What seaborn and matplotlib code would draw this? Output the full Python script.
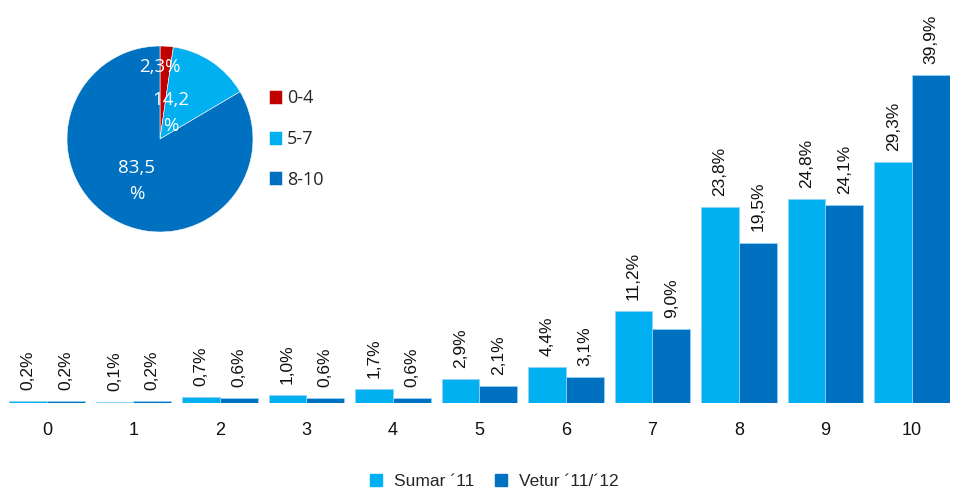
import numpy as np
import pandas as pd
import matplotlib
matplotlib.use("Agg")
import matplotlib.pyplot as plt
import seaborn as sns
from matplotlib.lines import Line2D

# grades 0-10, share of respondents
grades = [str(i) for i in range(11)]
sumar = [0.2, 0.1, 0.7, 1.0, 1.7, 2.9, 4.4, 11.2, 23.8, 24.8, 29.3]
vetur = [0.2, 0.2, 0.6, 0.6, 0.6, 2.1, 3.1, 9.0, 19.5, 24.1, 39.9]
series = ["Sumar \u00b411", "Vetur \u00b411/\u00b412"]

pie_labels = ["0-4", "5-7", "8-10"]
pie_vals = [2.3, 14.2, 83.5]
pie_text = ["2,3%", "14,2\n%", "83,5\n%"]

c_light = "#00B0F0"
c_dark = "#0070C0"
c_red = "#C00000"

sns.set_theme(style="white")
plt.rcParams["font.family"] = ["Liberation Sans Narrow", "Liberation Sans", "DejaVu Sans"]

df = pd.DataFrame({
    "grade": grades * 2,
    "value": sumar + vetur,
    "series": [series[0]] * 11 + [series[1]] * 11,
})

fig = plt.figure(figsize=(9.54, 4.88), dpi=100)
ax = fig.add_axes([8 / 954, 85 / 488, 942 / 954, 395 / 488])
sns.barplot(data=df, x="grade", y="value", hue="series", palette=[c_light, c_dark],
            saturation=1, width=0.87, gap=0, edgecolor="#8fd3f5", linewidth=0.6,
            ax=ax, legend=False)
ax.set_ylim(0, 48)
ax.set_xlim(-0.45, 10.44)
ax.set_xlabel("")
ax.set_ylabel("")
ax.set_yticks([])
for s in ax.spines.values():
    s.set_visible(False)
ax.tick_params(axis="x", length=0, labelsize=13, pad=14, colors="#111111")

for cont in ax.containers:
    labels = [f"{v:.1f}%".replace(".", ",") for v in cont.datavalues]
    ax.bar_label(cont, labels=labels, rotation=90, padding=8, fontsize=12.5, color="#111111")

handles = [Line2D([], [], marker="s", linestyle="", markersize=9, color=c) for c in (c_light, c_dark)]
fig.legend(handles, series, loc="lower center", bbox_to_anchor=(0.512, -0.035), ncol=2,
           frameon=False, fontsize=12.5, handletextpad=0.05, columnspacing=0.5)

# pie inset
axp = fig.add_axes([67 / 954, (488 - 233) / 488, 186 / 954, 188 / 488])
wedges, _ = axp.pie(pie_vals, colors=[c_red, c_light, c_dark], startangle=90,
                    counterclock=False, wedgeprops=dict(edgecolor="white", linewidth=0.4))
axp.set_xlim(-1, 1)
axp.set_ylim(-1, 1)
axp.set_aspect("equal")
txt_pos = [(0.0, 0.77), (0.12, 0.28), (-0.25, -0.45)]
for t, (x, y) in zip(pie_text, txt_pos):
    axp.text(x, y, t, ha="center", va="center", color="white", fontsize=13.5,
             family=["Open Sans", "DejaVu Sans"], linespacing=1.6)
axp.legend(wedges, pie_labels, loc="center left", bbox_to_anchor=(1.0, 0.5), frameon=False,
           handlelength=0.7, handleheight=0.8, handletextpad=0.3, labelspacing=1.25,
           prop={"family": ["Open Sans", "DejaVu Sans"], "size": 13})

fig.savefig("out.png", dpi=100)
